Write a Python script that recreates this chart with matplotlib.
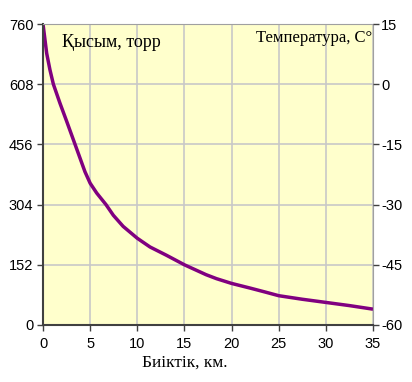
import matplotlib
matplotlib.use("Agg")
import matplotlib.pyplot as plt
from matplotlib import font_manager

plt.rcParams['axes.unicode_minus'] = False

# Data
altitude_km = [0, 0.39, 0.74, 1.1, 1.8, 2.5, 3.4, 4.45, 5, 5.7, 6.68, 7.46, 8.5, 10,
               11.35, 13.1, 15, 17.3, 18.4, 20, 22, 23.6, 25, 27.5, 30, 32.5, 35]
pressure_torr = [760, 686, 644, 608, 560, 515, 456, 387, 358, 333, 304, 277, 249, 219,
                 197, 176, 152, 127, 117, 105, 93, 83, 74, 65, 57, 49, 40]

x_ticks = [0, 5, 10, 15, 20, 25, 30, 35]
p_ticks = [0, 152, 304, 456, 608, 760]
t_ticks = [-60, -45, -30, -15, 0, 15]

names = {f.name for f in font_manager.fontManager.ttflist}
narrow = [n for n in ['Liberation Sans Narrow', 'Arial Narrow'] if n in names]
tick_family = narrow + ['Liberation Sans', 'DejaVu Sans']
tick_size = 11.5 if narrow else 10.5
serif = ['Liberation Serif', 'DejaVu Serif']

fig = plt.figure(figsize=(4.12, 3.82), dpi=100)
ax = fig.add_axes([43/412, 1-325/382, 330/412, 301/382])
ax.set_facecolor('#FFFFCC')

ax.plot(altitude_km, pressure_torr, color='#800080', lw=2.5, solid_capstyle='butt')

ax.set_xlim(0, 35)
ax.set_ylim(0, 760)
ax.set_xticks(x_ticks)
ax.set_yticks(p_ticks)
ax.grid(True, color='#C8C8C8', lw=1.2)
ax.set_axisbelow(True)
ax.tick_params(direction='out', length=4, width=1, color='#404040', pad=3)
ax.tick_params(axis='x', pad=5)
for lab in ax.get_xticklabels() + ax.get_yticklabels():
    lab.set_fontfamily(tick_family)
    lab.set_fontsize(tick_size)

ax.spines['left'].set_color('#404040')
ax.spines['bottom'].set_color('#404040')
ax.spines['left'].set_linewidth(1.5)
ax.spines['bottom'].set_linewidth(1.5)
ax.spines['top'].set_color('#A0A0A0')
ax.spines['right'].set_color('#A0A0A0')

ax2 = ax.twinx()
ax2.set_ylim(-60, 15)
ax2.set_yticks(t_ticks)
ax2.tick_params(direction='out', length=4, width=1, color='#404040', pad=2)
for lab in ax2.get_yticklabels():
    lab.set_fontfamily(tick_family)
    lab.set_fontsize(tick_size)
for s in ax2.spines.values():
    s.set_visible(False)

ax.text(0.058, 0.94, 'Қысым, торр', transform=ax.transAxes, ha='left', va='center',
        family=serif, fontsize=13)
ax.text(0.997, 0.955, 'Температура, С°', transform=ax.transAxes, ha='right', va='center',
        family=serif, fontsize=12)
fig.text(185/412, 1-363/382, 'Биіктік, км.', ha='center', va='center', family=serif, fontsize=12.5)

fig.savefig('out.png', dpi=100)
